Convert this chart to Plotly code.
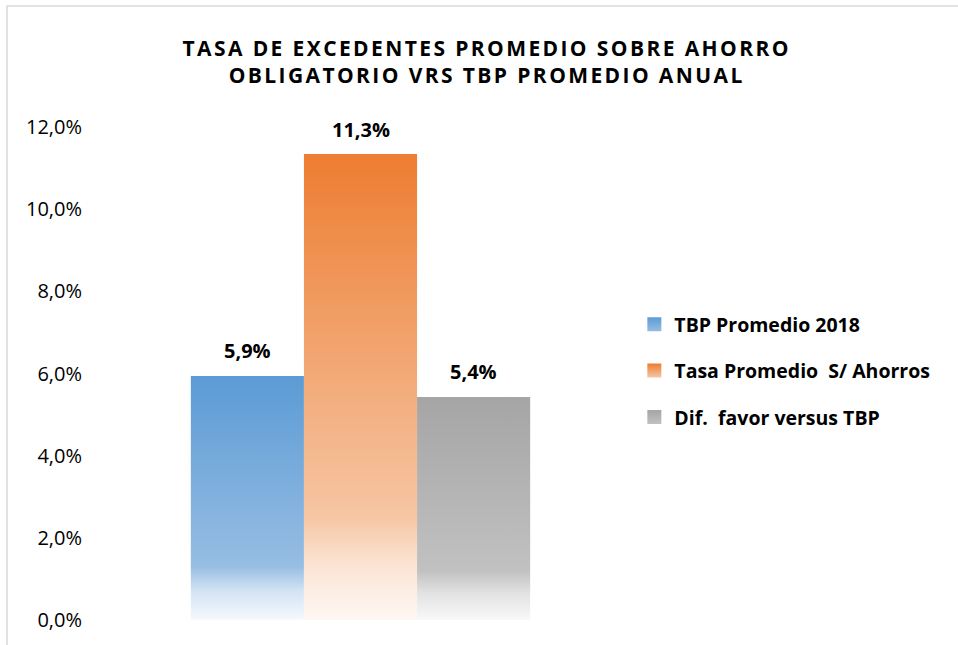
import plotly.graph_objects as go

# ---- data ----
categories = ["TBP Promedio 2018", "Tasa Promedio  S/ Ahorros", "Dif.  favor versus TBP"]
values = [5.94, 11.34, 5.43]
label_texts = ["5,9%", "11,3%", "5,4%"]
tick_values = [0, 2, 4, 6, 8, 10, 12]
tick_labels = ["0,0%", "2,0%", "4,0%", "6,0%", "8,0%", "10,0%", "12,0%"]

# gradient stops (bottom -> top) per series
gradients = [
    [[0.0, "#F6F9FD"], [0.12, "#D3E3F4"], [0.22, "#97BDE3"], [1.0, "#5B9BD5"]],
    [[0.0, "#FEF8F4"], [0.12, "#FBE3D3"], [0.22, "#F6C6A4"], [1.0, "#ED7D31"]],
    [[0.0, "#F9F9F9"], [0.12, "#E2E2E2"], [0.22, "#C1C1C1"], [1.0, "#A5A5A5"]],
]

FONT = "Open Sans"
fig = go.Figure()

bar_w = 1.0
for i, (name, v, grad) in enumerate(zip(categories, values, gradients)):
    x0, x1 = i - bar_w / 2, i + bar_w / 2
    fig.add_trace(go.Scatter(
        x=[x0, x0, x1, x1, x0],
        y=[0, v, v, 0, 0],
        mode="lines",
        fill="toself",
        fillgradient=dict(type="vertical", colorscale=grad),
        line=dict(width=0, color=grad[-1][1]),
        name=name,
        showlegend=False,
        hoverinfo="skip",
    ))

# legend entries (square gradient swatches)
for name, grad in zip(categories, gradients):
    fig.add_trace(go.Scatter(
        x=[None], y=[None], mode="markers", name=name, legendgroup=name,
        marker=dict(symbol="square", size=14, color=grad[-1][1],
                    gradient=dict(type="vertical", color=grad[2][1]),
                    line=dict(width=0)),
    ))

for i, (v, t) in enumerate(zip(values, label_texts)):
    fig.add_annotation(x=i, y=v, text=t, showarrow=False, yshift=25,
                       yanchor="middle",
                       font=dict(family=FONT, size=20, color="#000000", weight="bold"))

# chart border (extends past the right/bottom edges as in the reference)
fig.add_shape(type="rect", xref="paper", yref="paper",
              x0=-0.1945, x1=1.70, y0=-0.07, y1=1.2454,
              line=dict(color="#D9D9D9", width=1.5), fillcolor="rgba(0,0,0,0)",
              layer="below")

fig.update_layout(
    width=958, height=645,
    margin=dict(l=106, r=343, t=127, b=25),
    paper_bgcolor="white", plot_bgcolor="white",
    separators=",.",
    title=dict(
        text="TASA DE EXCEDENTES PROMEDIO SOBRE AHORRO<br>OBLIGATORIO VRS TBP PROMEDIO ANUAL",
        x=0.508, xanchor="center", y=1 - 55.5 / 645, yanchor="middle",
        font=dict(family=FONT, size=21, color="#000000", weight="bold"),
    ),
    xaxis=dict(range=[-1.25, 3.25], showticklabels=False, showgrid=False,
               zeroline=False, showline=False, ticks="", fixedrange=True),
    yaxis=dict(range=[0, 12], tickvals=tick_values, ticktext=tick_labels,
               showgrid=False, zeroline=False, showline=False, ticks="",
               ticklabelstandoff=23,
               tickfont=dict(family=FONT, size=20, color="#000000")),
    legend=dict(x=1.038, xanchor="left", y=0.505, yanchor="middle",
                font=dict(family=FONT, size=19.5, color="#000000", weight="bold"),
                tracegroupgap=18, traceorder="grouped",
                bgcolor="rgba(0,0,0,0)"),
    showlegend=True,
)

post = """
document.body.style.margin='0px';
var gd = document.getElementById('{plot_id}');
function spaceTitle(){
  gd.querySelectorAll('.gtitle').forEach(function(e){ e.style.letterSpacing='2.4px'; });
}
spaceTitle();
setTimeout(spaceTitle, 50);
if (gd.on) { gd.on('plotly_afterplot', spaceTitle); }
"""

fig.write_html("out.html", post_script=post, config={"displayModeBar": False})
